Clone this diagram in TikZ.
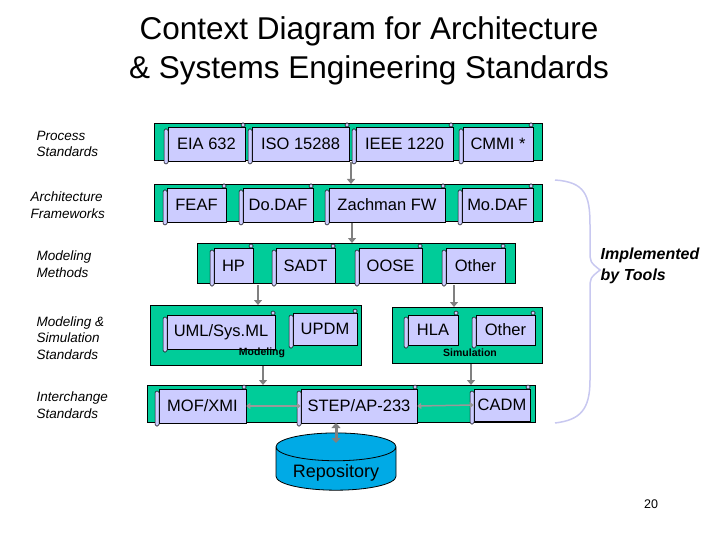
\documentclass[tikz,border=0pt]{standalone}
\usepackage{fontspec}
\setmainfont{Liberation Sans}
\usetikzlibrary{shapes.geometric,arrows.meta}
\definecolor{band}{RGB}{0,204,153}
\definecolor{paper}{RGB}{204,204,255}
\definecolor{repo}{RGB}{0,170,230}
\definecolor{brace}{RGB}{200,200,240}
\tikzset{
  band/.style={draw=black, fill=band, line width=0.6pt},
  scroll/.style={draw=black, fill=paper, line width=0.5pt, inner sep=0pt, font=\fontsize{16.5}{18}\selectfont},
  roll/.style={draw=black, fill=paper, line width=0.5pt, rounded corners=1.5pt},
  flow/.style={draw=gray, line width=2.5pt, -{Triangle[length=5pt,width=8pt]}},
  link/.style={draw=gray!80, line width=1.5pt, {Triangle[length=4pt,width=6pt]}-{Triangle[length=4pt,width=6pt]}},
  side/.style={font=\fontsize{13.5}{16.5}\selectfont\itshape, align=left, anchor=west}
}
\newcommand{\sheet}[6]{% name, x1, y1, x2, y2, text
  \node[scroll, minimum width=#4-#2, minimum height=#5-#3] (#1) at ({(#2+#4)/2},{(#3+#5)/2}) {#6};
  \draw[roll] (#2-4,#3+2) rectangle (#2,#5+3);
  \draw[roll] (#4-4,#3-4) rectangle (#4,#3);
}
\begin{document}
\begin{tikzpicture}[x=1pt,y=-1pt]
  \useasboundingbox (0,0) rectangle (720,540);
  % title
  \node[font=\fontsize{31.5}{39}\selectfont, align=center] (title) at (369,51) {Context Diagram for Architecture\\\& Systems Engineering Standards};
  % side labels
  \node[side] (lproc) at (33,144) {Process\\Standards};
  \node[side] (larch) at (27,205) {Architecture\\Frameworks};
  \node[side] (lmeth) at (33,264) {Modeling\\Methods};
  \node[side] (lsim) at (33,338) {Modeling \&\\Simulation\\Standards};
  \node[side] (lint) at (33,405) {Interchange\\Standards};
  % bands
  \draw[band] (154,123) rectangle (542,160);
  \draw[band] (154,184) rectangle (542,221);
  \draw[band] (197,243) rectangle (515,283);
  \draw[band] (150,305) rectangle (361,365);
  \draw[band] (392,307) rectangle (542,363);
  \draw[band] (147,385) rectangle (535,422);
  % row 1
  \sheet{eia}{168}{127}{245}{161}{EIA 632}
  \sheet{iso}{252}{127}{349}{161}{ISO 15288}
  \sheet{ieee}{356}{127}{453}{161}{IEEE 1220}
  \sheet{cmmi}{463}{127}{533}{161}{CMMI *}
  % row 2
  \sheet{feaf}{167}{188}{226}{222}{FEAF}
  \sheet{dodaf}{243}{188}{313}{222}{Do.DAF}
  \sheet{zach}{329}{188}{445}{222}{Zachman FW}
  \sheet{modaf}{462}{188}{533}{222}{Mo.DAF}
  % row 3
  \sheet{hp}{214}{248}{253}{283}{HP}
  \sheet{sadt}{276}{248}{335}{283}{SADT}
  \sheet{oose}{359}{248}{422}{283}{OOSE}
  \sheet{other}{446}{248}{505}{283}{Other}
  % row 4
  \sheet{uml}{167}{315}{275}{349}{UML/Sys.ML}
  \sheet{updm}{293}{313}{357}{345}{UPDM}
  \sheet{hla}{408}{315}{458}{345}{HLA}
  \sheet{simother}{476}{315}{535}{345}{Other}
  \node[font=\fontsize{10.5}{12}\selectfont\bfseries] (lmod) at (262,353) {Modeling};
  \node[font=\fontsize{10.5}{12}\selectfont\bfseries] (lsimu) at (470,353) {Simulation};
  % row 5
  \sheet{mof}{159}{389}{246}{423}{MOF/XMI}
  \sheet{step}{301}{389}{417}{423}{STEP/AP-233}
  \sheet{cadm}{474}{389}{530}{421}{CADM}
  % repository
  \node[cylinder, shape border rotate=90, aspect=0.3, draw=black, fill=repo, line width=0.8pt,
        minimum width=120pt, minimum height=56pt, font=\fontsize{18}{20}\selectfont,
        text depth=-4pt] (repo) at (336,471) {Repository};
  % flows
  \coordinate (f1a) at (351,162); \coordinate (f1b) at (351,184);
  \coordinate (f2a) at (352,223); \coordinate (f2b) at (352,243);
  \coordinate (f3a) at (258,285); \coordinate (f3b) at (258,305);
  \coordinate (f4a) at (454,285); \coordinate (f4b) at (454,307);
  \coordinate (f5a) at (263,366); \coordinate (f5b) at (263,385);
  \coordinate (f6a) at (471,364); \coordinate (f6b) at (471,385);
  \foreach \a/\b in {f1a/f1b,f2a/f2b,f3a/f3b,f4a/f4b,f5a/f5b,f6a/f6b}
    \draw[flow] (\a) -- (\b);
  \draw[link] (mof.east) -- (step.west);
  \draw[link] (step.east) -- (cadm.west);
  \coordinate (stepbot) at (336,423);
  \coordinate (repotop) at (336,443);
  \draw[draw=gray, line width=3pt, {Triangle[length=5pt,width=9pt]}-{Triangle[length=5pt,width=9pt]}] (stepbot) -- (repotop);
  % brace
  \draw[brace, line width=1.5pt] (555,180) .. controls (585,182) and (590,195) .. (590,225)
    -- (590,250) .. controls (590,262) .. (600,270) .. controls (590,278) .. (590,290)
    -- (590,380) .. controls (590,410) and (580,420) .. (555,423);
  \node[font=\fontsize{16}{21}\selectfont\bfseries\itshape, align=left] (tools) at (650,266) {Implemented\\by Tools};
  \node[font=\fontsize{12.5}{14}\selectfont] (page) at (651,504) {20};
\end{tikzpicture}
\end{document}
